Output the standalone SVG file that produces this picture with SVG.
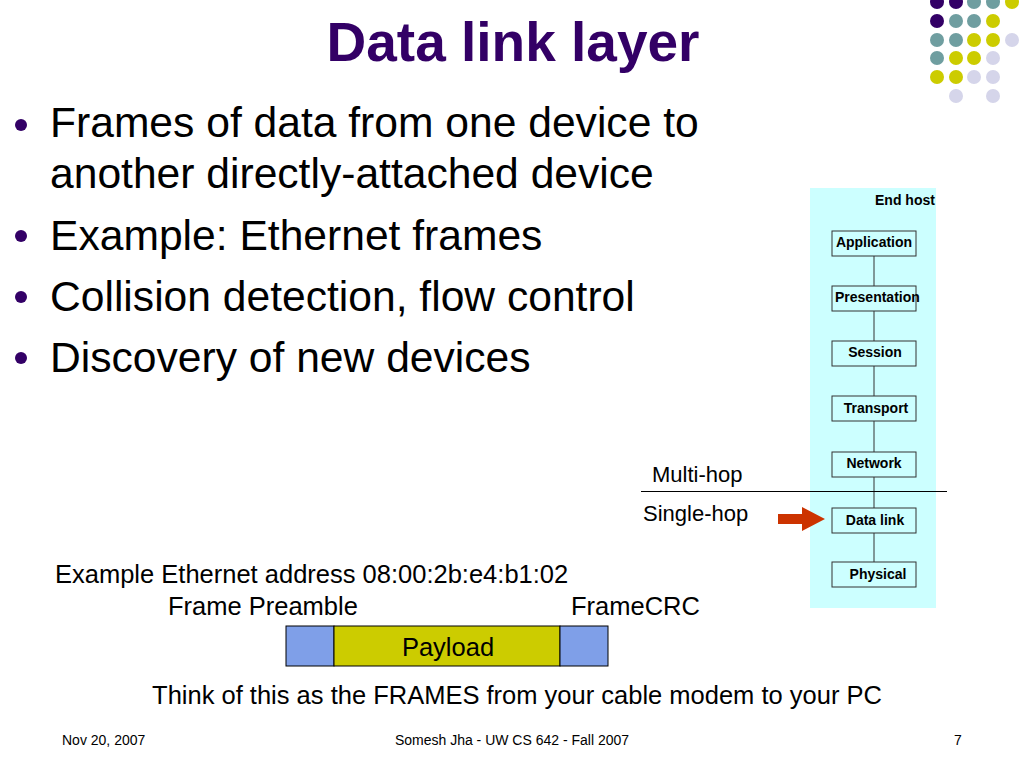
<svg xmlns="http://www.w3.org/2000/svg" width="1024" height="768" viewBox="0 0 1024 768">
<style>
text{font-family:"Liberation Sans",Arial,sans-serif;fill:#000}
.title{font-size:55px;font-weight:bold;fill:#330066}
.bul{font-size:42.6px}
.mid{font-size:25.5px}
.hop{font-size:22px}
.lay{font-size:14px;font-weight:bold}
.foot{font-size:14px}
.box{fill:#ccffff;stroke:#333;stroke-width:1}
.con{stroke:#333;stroke-width:1;fill:none}
.p{fill:#330066}.t{fill:#6f9ea0}.y{fill:#cccc00}.l{fill:#d5d5ea}
</style>
<rect width="1024" height="768" fill="#fff"/>
<g id="dots">
<circle class="p" cx="937" cy="2" r="7"/><circle class="p" cx="956" cy="2" r="7"/><circle class="t" cx="974" cy="2" r="7"/><circle class="t" cx="993" cy="2" r="7"/><circle class="y" cx="1012" cy="2" r="7"/>
<circle class="p" cx="937" cy="21" r="7"/><circle class="t" cx="956" cy="21" r="7"/><circle class="t" cx="974" cy="21" r="7"/><circle class="y" cx="993" cy="21" r="7"/>
<circle class="t" cx="937" cy="40" r="7"/><circle class="t" cx="956" cy="40" r="7"/><circle class="y" cx="974" cy="40" r="7"/><circle class="y" cx="993" cy="40" r="7"/><circle class="l" cx="1012" cy="40" r="7"/>
<circle class="t" cx="937" cy="58" r="7"/><circle class="y" cx="956" cy="58" r="7"/><circle class="y" cx="974" cy="58" r="7"/><circle class="l" cx="993" cy="58" r="7"/>
<circle class="y" cx="937" cy="77" r="7"/><circle class="y" cx="956" cy="77" r="7"/><circle class="l" cx="974" cy="77" r="7"/><circle class="l" cx="993" cy="77" r="7"/>
<circle class="l" cx="956" cy="96" r="7"/><circle class="l" cx="993" cy="96" r="7"/>
</g>
<text class="title" x="513" y="61" text-anchor="middle">Data link layer</text>
<g id="bullets">
<circle class="p" cx="21" cy="125" r="6"/>
<circle class="p" cx="21" cy="236" r="6"/>
<circle class="p" cx="21" cy="297" r="6"/>
<circle class="p" cx="21" cy="358" r="6"/>
<text class="bul" x="50" y="137">Frames of data from one device to</text>
<text class="bul" x="50" y="188">another directly-attached device</text>
<text class="bul" x="50" y="250">Example: Ethernet frames</text>
<text class="bul" x="50" y="311">Collision detection, flow control</text>
<text class="bul" x="50" y="372">Discovery of new devices</text>
</g>
<rect id="panel" x="810" y="188" width="126" height="420" fill="#ccffff"/>
<text class="lay" x="875" y="205">End host</text>
<g id="connectors">
<line class="con" x1="874" y1="256" x2="874" y2="286"/>
<line class="con" x1="874" y1="311" x2="874" y2="341"/>
<line class="con" x1="874" y1="366" x2="874" y2="396"/>
<line class="con" x1="874" y1="421" x2="874" y2="452"/>
<line class="con" x1="874" y1="477" x2="874" y2="508"/>
<line class="con" x1="874" y1="533" x2="874" y2="562"/>
<line x1="641" y1="491.5" x2="947" y2="491.5" stroke="#000" stroke-width="1"/>
<polygon points="778,514 802,514 802,507 825,519 802,531 802,524 778,524" fill="#cc3300"/>
</g>
<g id="application"><rect class="box" x="832" y="231" width="84" height="25"/><text class="lay" x="874" y="247" text-anchor="middle">Application</text></g>
<g id="presentation"><rect class="box" x="832" y="286" width="84" height="25"/><text class="lay" x="835" y="302">Presentation</text></g>
<g id="session"><rect class="box" x="832" y="341" width="84" height="25"/><text class="lay" x="875" y="357" text-anchor="middle">Session</text></g>
<g id="transport"><rect class="box" x="832" y="396" width="84" height="25"/><text class="lay" x="876" y="413" text-anchor="middle">Transport</text></g>
<g id="network"><rect class="box" x="832" y="452" width="84" height="25"/><text class="lay" x="874" y="468" text-anchor="middle">Network</text></g>
<g id="datalink"><rect class="box" x="832" y="508" width="84" height="25"/><text class="lay" x="875" y="525" text-anchor="middle">Data link</text></g>
<g id="physical"><rect class="box" x="832" y="562" width="84" height="25"/><text class="lay" x="878" y="579" text-anchor="middle">Physical</text></g>
<text class="hop" x="652" y="482">Multi-hop</text>
<text class="hop" x="643" y="521">Single-hop</text>
<text class="mid" x="55" y="583">Example Ethernet address 08:00:2b:e4:b1:02</text>
<text class="mid" x="168" y="615">Frame Preamble</text>
<text class="mid" x="571" y="615">FrameCRC</text>
<g id="frame">
<rect x="286" y="626" width="48" height="40" fill="#7f9fe8" stroke="#000" stroke-width="1"/>
<rect x="334" y="626" width="226" height="40" fill="#cccc00" stroke="#000" stroke-width="1"/>
<rect x="560" y="626" width="48" height="40" fill="#7f9fe8" stroke="#000" stroke-width="1"/>
<text class="mid" x="448" y="656" text-anchor="middle">Payload</text>
</g>
<text class="mid" x="517" y="704" text-anchor="middle">Think of this as the FRAMES from your cable modem to your PC</text>
<text class="foot" x="62" y="745">Nov 20, 2007</text>
<text class="foot" x="512" y="745" text-anchor="middle">Somesh Jha - UW CS 642 - Fall 2007</text>
<text class="foot" x="958" y="745" text-anchor="middle">7</text>
</svg>
